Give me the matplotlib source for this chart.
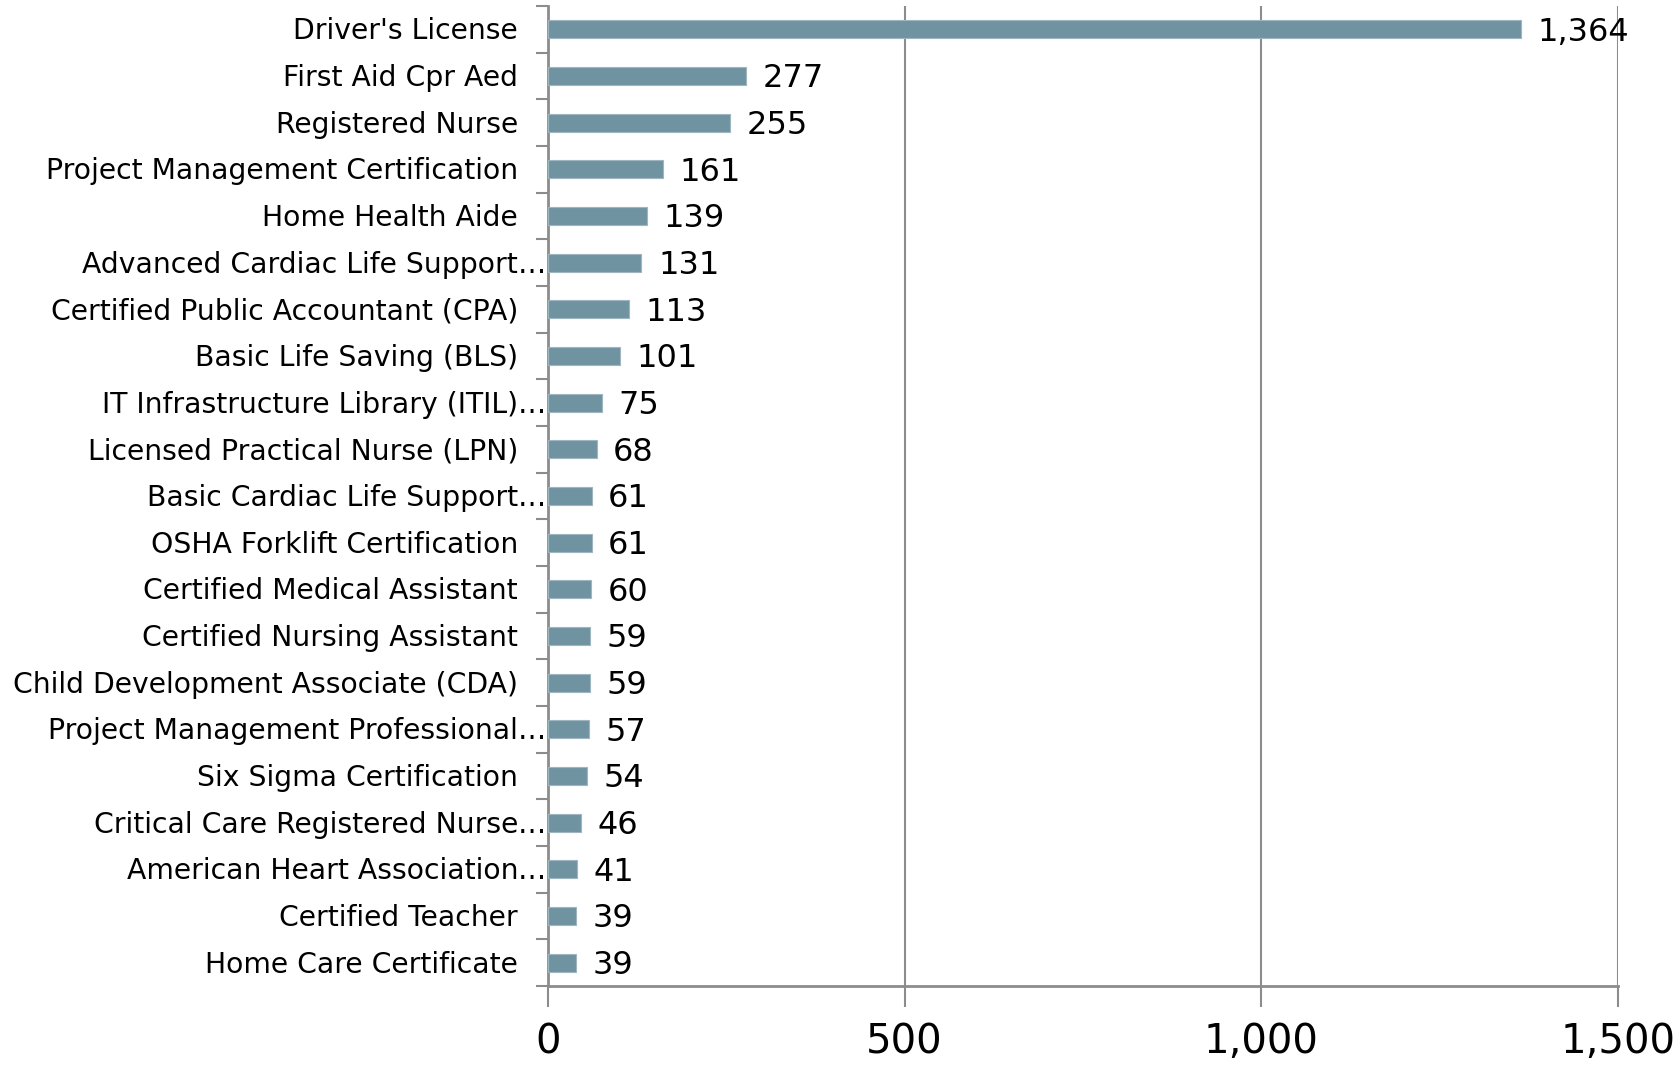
import matplotlib.pyplot as plt
from matplotlib.ticker import FuncFormatter, FixedLocator
import matplotlib.transforms as mtransforms

# certification names, top to bottom; trailing "…" means truncated by the source chart
labels = [
    "Driver's License", "First Aid Cpr Aed", "Registered Nurse",
    "Project Management Certification", "Home Health Aide",
    "Advanced Cardiac Life Support…", "Certified Public Accountant (CPA)",
    "Basic Life Saving (BLS)", "IT Infrastructure Library (ITIL)…",
    "Licensed Practical Nurse (LPN)", "Basic Cardiac Life Support…",
    "OSHA Forklift Certification", "Certified Medical Assistant",
    "Certified Nursing Assistant", "Child Development Associate (CDA)",
    "Project Management Professional…", "Six Sigma Certification",
    "Critical Care Registered Nurse…", "American Heart Association…",
    "Certified Teacher", "Home Care Certificate",
]
counts = [1364, 277, 255, 161, 139, 131, 113, 101, 75, 68, 61, 61, 60, 59, 59, 57, 54, 46, 41, 39, 39]
xticks = [0, 500, 1000, 1500]

bar_color = "#7093a2"
axis_color = "#8c8c8c"
font = "DejaVu Sans"

fig = plt.figure(figsize=(16.8, 10.65), dpi=100)
ax = fig.add_axes([0.3262, 0.0742, 0.6369, 0.9202])

n = len(labels)
ypos = list(range(n))
ax.barh(ypos, counts, height=0.39, color=bar_color, edgecolor="#9fb6c0", linewidth=0.8, zorder=3)
ax.set_ylim(n - 0.5, -0.5)
ax.set_xlim(0, 1500)

# value labels
for y, v in zip(ypos, counts):
    ax.annotate(f"{v:,}", (v, y), xytext=(12, -2), textcoords="offset points",
                ha="left", va="center", fontsize=23, family=font, zorder=4)

# category labels, right aligned; ellipsis hangs past the edge
off = mtransforms.blended_transform_factory(ax.transAxes, ax.transData)
shift = mtransforms.ScaledTranslation(-30 / 100, -2 / 100, fig.dpi_scale_trans)
for y, lab in zip(ypos, labels):
    if lab.endswith("…"):
        ax.text(0, y, lab[:-1], transform=off + shift, ha="right", va="center",
                fontsize=20.3, family=font)
        ax.text(0, y, "…", transform=off + shift, ha="left", va="center",
                fontsize=20.3, family=font)
    else:
        ax.text(0, y, lab, transform=off + shift, ha="right", va="center",
                fontsize=20.3, family=font)

ax.set_yticks([])
ax.yaxis.set_minor_locator(FixedLocator([i - 0.5 for i in range(n + 1)]))
ax.tick_params(axis="y", which="minor", length=9, width=1.5, color=axis_color)

ax.set_xticks(xticks)
ax.xaxis.set_major_formatter(FuncFormatter(lambda v, p: f"{int(v):,}"))
ax.tick_params(axis="x", length=15, width=1.5, color=axis_color, pad=11,
               labelsize=29)
for t in ax.get_xticklabels():
    t.set_family(font)
ax.grid(axis="x", color=axis_color, linewidth=1.5, zorder=0)

for side in ["top", "right"]:
    ax.spines[side].set_visible(False)
for side in ["left", "bottom"]:
    ax.spines[side].set_color(axis_color)
    ax.spines[side].set_linewidth(2)

plt.savefig("out.png", dpi=100)
